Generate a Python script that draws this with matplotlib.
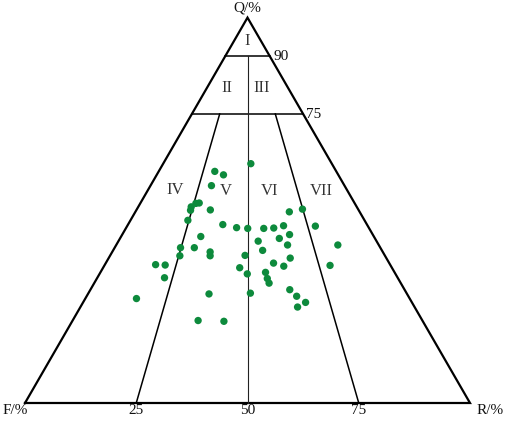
import matplotlib
matplotlib.use('Agg')
import matplotlib.pyplot as plt
import numpy as np

# sample compositions (percent)
Q = [62.1, 60.1, 59.2, 56.4, 50.9, 51.8, 51.9, 50.0, 50.1, 47.4,
     46.3, 45.5, 45.3, 45.3, 45.4, 46.0, 49.6, 50.3, 45.9, 43.7,
     42.7, 42.0, 43.2, 40.3, 40.3, 39.2, 38.2, 38.2, 35.9, 35.8,
     32.5, 27.1, 38.3, 39.6, 41.0, 37.6, 36.3, 35.5, 35.1, 33.5,
     33.9, 32.3, 31.1, 41.0, 35.7, 28.3, 28.5, 29.4, 27.7, 26.1,
     24.9, 21.4, 21.2]
R = [19.7, 12.6, 15.0, 13.7, 11.9, 12.5, 13.2, 12.2, 16.6, 12.9,
     21.3, 24.8, 27.4, 31.0, 33.2, 35.1, 34.6, 37.2, 42.3, 37.6,
     35.8, 31.4, 17.9, 14.8, 17.9, 22.0, 22.5, 15.7, 11.4, 13.6,
     15.1, 11.5, 30.3, 33.6, 38.5, 40.8, 37.7, 40.4, 30.7, 33.2,
     37.1, 38.3, 39.3, 49.8, 50.7, 27.2, 36.4, 44.8, 47.2, 50.0,
     48.8, 28.2, 34.1]

field_labels = ['I', 'II', 'III', 'IV', 'V', 'VI', 'VII']
base_ticks = [25, 50, 75]
q_ticks = [90, 75]

H = np.sqrt(3) / 2


def to_xy(q, r):
    q = np.asarray(q, float) / 100
    r = np.asarray(r, float) / 100
    return r + q / 2, q * H


def fr_line(q, ratio):
    # point at Q=q with R/(F+R)=ratio
    return to_xy(q, (100 - q) * ratio)


fig = plt.figure(figsize=(5.05, 4.21), dpi=100)
ax = fig.add_axes([0, 0, 1, 1])
ax.set_xlim(-25 / 445, 480 / 445)
ax.set_ylim(-18 / 445, 403 / 445)
ax.axis('off')

SERIF = 'Liberation Serif'

# outline
ax.plot([0, 1, 0.5, 0], [0, 0, H, 0], color='black', lw=1.6,
        solid_joinstyle='miter', zorder=2)

# Q = 90 and Q = 75 lines
for q in q_ticks:
    x0, y0 = fr_line(q, 0)
    x1, y1 = fr_line(q, 1)
    ax.plot([x0, x1], [y0, y1], color='black', lw=1.1, zorder=2)

# F:R ratio lines
x0, y0 = fr_line(90, 0.5)
x1, y1 = fr_line(0, 0.5)
ax.plot([x0, x1], [y0, y1], color='#222222', lw=0.8, zorder=2)
for ratio in (0.25, 0.75):
    x0, y0 = fr_line(75, ratio)
    x1, y1 = fr_line(0, ratio)
    ax.plot([x0, x1], [y0, y1], color='black', lw=1.1, zorder=2)

# data points
px, py = to_xy(Q, R)
ax.scatter(px, py, s=28, color='#0d8a3c', edgecolors='none', zorder=3)


def pix(x, y):
    return (x - 25) / 445, (403 - y) / 445


txt = dict(fontfamily=SERIF, color='#111111', fontsize=11)

ax.text(*pix(247, 8), 'Q/%', ha='center', va='center', **txt)
ax.text(*pix(15, 411), 'F/%', ha='center', va='center', **txt)
ax.text(*pix(490, 411), 'R/%', ha='center', va='center', **txt)
for t in base_ticks:
    x, _ = to_xy(0, t)
    ax.text(x, pix(0, 411)[1], str(t), ha='center', va='center', **txt)
ax.text(*pix(273, 57), '90', ha='left', va='center', **txt)
ax.text(*pix(306, 114), '75', ha='left', va='center', **txt)

label_pos = [(247, 41), (227, 88), (262, 88), (175, 190),
             (226, 191), (270, 191), (321, 191)]
for lab, (x, y) in zip(field_labels, label_pos):
    ax.text(*pix(x, y), lab, ha='center', va='center', fontfamily=SERIF,
            color='#333333', fontsize=12)

fig.savefig('out.png', dpi=100, facecolor='white')
